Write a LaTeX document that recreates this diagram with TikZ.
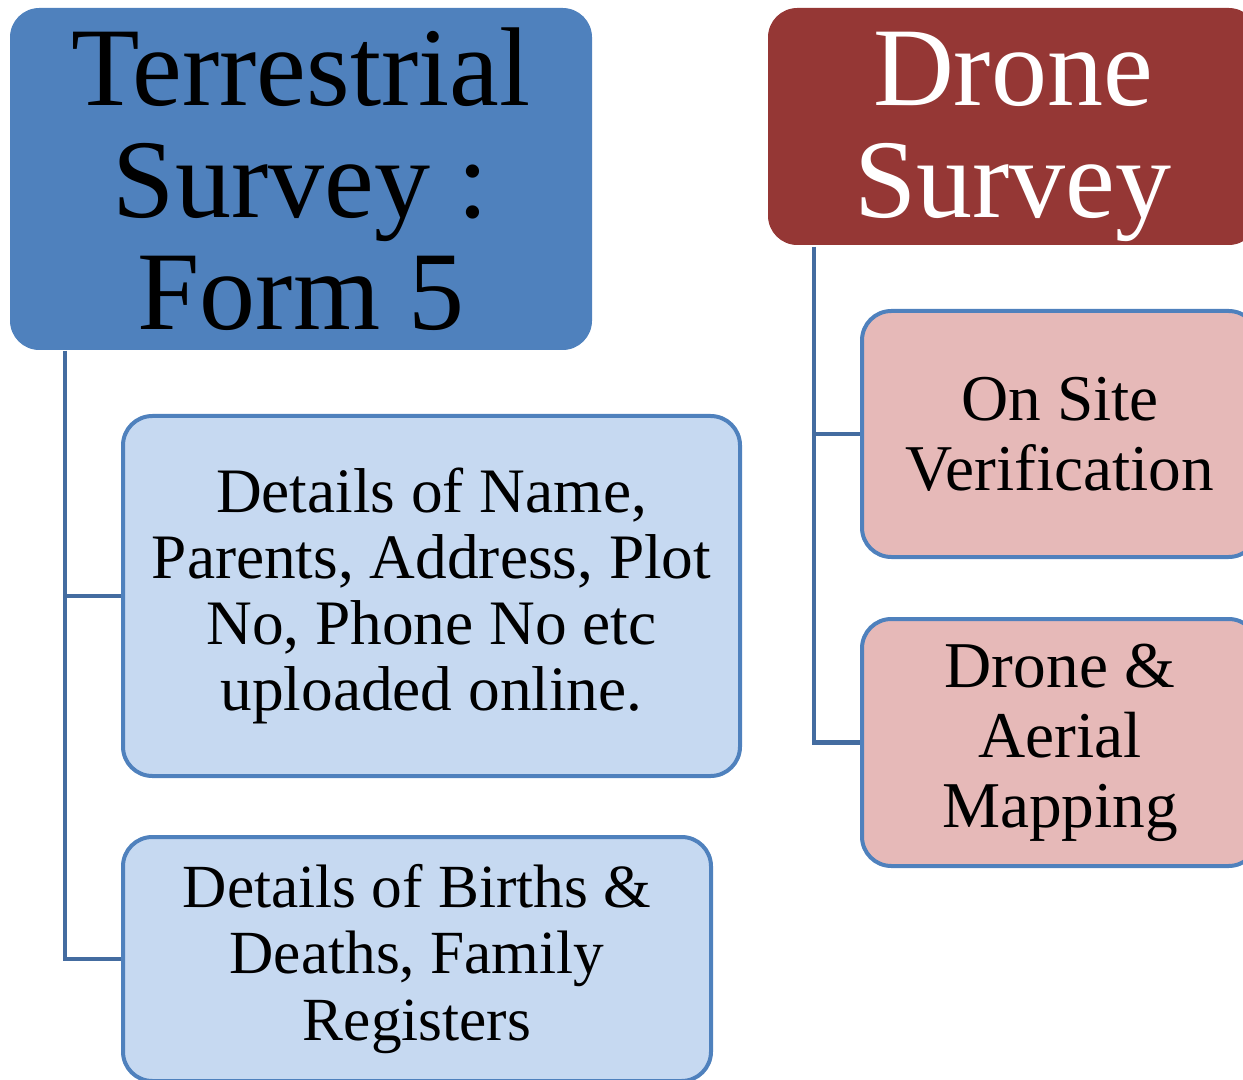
\documentclass[tikz,border=0pt]{standalone}
\usepackage{fontspec}
\setmainfont{Liberation Serif}
\definecolor{tblue}{RGB}{79,129,189}
\definecolor{dred}{RGB}{149,55,53}
\definecolor{lblue}{RGB}{198,217,241}
\definecolor{lpink}{RGB}{230,185,184}
\definecolor{lineblue}{RGB}{68,108,160}
\tikzset{
  hdr/.style={rectangle, rounded corners=22pt, inner sep=0pt, align=center,
    font=\fontsize{84}{84}\selectfont},
  sub/.style={rectangle, rounded corners=22pt, inner sep=0pt, align=center,
    draw=tblue, line width=3pt},
  conn/.style={draw=lineblue, line width=3.2pt}
}
\begin{document}
\begin{tikzpicture}[x=0.75pt,y=-0.75pt]
\useasboundingbox (0,0) rectangle (1243,1080);
\clip (0,0) rectangle (1243,1080);
\node[hdr, fill=tblue, text=black, minimum width=436.5pt, minimum height=256.5pt] (t) at (301,179) {Terrestrial\\Survey :\\Form 5};
\node[hdr, fill=dred, minimum width=367.5pt, minimum height=177.75pt] (d) at (1013,126.5) {};
\node[hdr, text=white] (dt) at (1013,137) {Drone\\Survey};
\node[sub, fill=lblue, minimum width=462.75pt, minimum height=270pt,
  font=\fontsize{47.5}{49.5}\selectfont] (b1) at (431.5,596) {Details of Name,\\Parents, Address, Plot\\No, Phone No etc\\uploaded online.};
\node[sub, fill=lblue, minimum width=441pt, minimum height=183pt,
  font=\fontsize{46}{50}\selectfont] (b2) at (417,959) {Details of Births \&\\Deaths, Family\\Registers};
\node[sub, fill=lpink, minimum width=297pt, minimum height=184.5pt,
  font=\fontsize{49}{52.5}\selectfont] (b3) at (1060,434) {On Site\\Verification};
\node[sub, fill=lpink, minimum width=297pt, minimum height=185.25pt,
  font=\fontsize{49}{52.5}\selectfont] (b4) at (1060,742.5) {Drone \&\\Aerial\\Mapping};
\coordinate (tl) at (65,351);
\coordinate (dl) at (814,247);
\draw[conn] (tl) |- (b1.west);
\draw[conn] (tl) |- (b2.west);
\draw[conn] (dl) |- (b3.west);
\draw[conn] (dl) |- (b4.west);
\end{tikzpicture}
\end{document}
